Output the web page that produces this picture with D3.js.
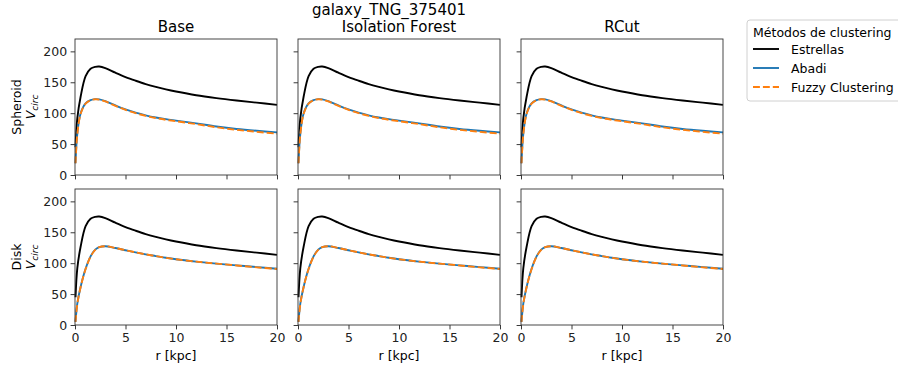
<!DOCTYPE html>
<html>
<head>
<meta charset="utf-8">
<script src="https://cdn.jsdelivr.net/npm/d3@7"></script>
<style>
body { margin: 0; background: #fff; }
svg { font-family: "DejaVu Sans", sans-serif; display: block; }
</style>
</head>
<body>
<svg id="chart"></svg>
<script>
// radius samples (kpc) shared by every curve
var radius = [0.05, 0.23, 0.56, 1.05, 1.54, 2.0, 2.4, 3.0, 4, 5, 6, 7, 8, 9, 10, 12, 14, 16, 18, 20];

var estrellas     = [45, 92, 127, 160, 172, 175, 175.5, 173, 165.5, 158.5, 152.5, 147, 142.5, 138.5, 135, 129, 124.4, 120.5, 117, 113.5];
var spheroidAbadi = [19, 67, 100, 116, 121, 122.7, 122.3, 119.5, 112.5, 106, 100.8, 96.5, 93, 90.3, 88, 83.5, 78.5, 74.5, 71.5, 69];
var spheroidFuzzy = [19, 66, 99, 115.5, 121, 122.5, 122, 119, 112, 105.3, 100, 95.7, 92.2, 89.3, 87, 82.3, 77.2, 73, 69.8, 66.8];
var diskAbadi     = [5, 35, 62, 91, 111, 122, 126, 127.5, 124.5, 121, 117.5, 114.3, 111.5, 108.7, 106.3, 102.5, 99.3, 96.5, 93.6, 91];
var diskFuzzy     = [5, 34, 61.5, 90.5, 110.5, 121.5, 126, 127.5, 124.5, 121, 117.5, 114.3, 111.5, 108.7, 106.3, 102.5, 99.3, 96.3, 93.3, 90.6];

var methods = ['Base', 'Isolation Forest', 'RCut'];
var components = ['Spheroid', 'Disk'];
var xTicks = [0, 5, 10, 15, 20];
var yTicks = [0, 50, 100, 150, 200];
var legendLabels = ['Estrellas', 'Abadi', 'Fuzzy Clustering'];

var width = 898;
var height = 369;
var panelW = 202;
var panelH = 136;
var lefts = [75, 298, 521];
var tops = [39, 189];

var xs = d3.scaleLinear().domain([0, 20]).range([0, panelW]);
var ys = d3.scaleLinear().domain([0, 220]).range([panelH, 0]);

var series = {
    Spheroid: [estrellas, spheroidAbadi, spheroidFuzzy],
    Disk: [estrellas, diskAbadi, diskFuzzy]
};
var colors = ['#000000', '#1f77b4', '#ff7f0e'];
var dashes = [null, null, '6.9,3'];

var svg = d3.select('#chart').attr('width', width).attr('height', height);

var line = d3.line()
    .x(function (d) { return xs(d[0]); })
    .y(function (d) { return ys(d[1]); })
    .curve(d3.curveCatmullRom.alpha(0.5));

components.forEach(function (comp, row) {
    methods.forEach(function (method, col) {
        var g = svg.append('g')
            .attr('transform', 'translate(' + lefts[col] + ',' + tops[row] + ')');

        // curves
        series[comp].forEach(function (vals, k) {
            var pts = radius.map(function (r, i) { return [r, vals[i]]; });
            g.append('path')
                .datum(pts)
                .attr('d', line)
                .attr('fill', 'none')
                .attr('stroke', colors[k])
                .attr('stroke-width', 1.9)
                .attr('stroke-dasharray', dashes[k]);
        });

        // axes
        var ya = g.append('g')
            .call(d3.axisLeft(ys).tickValues(yTicks).tickSize(4.4).tickPadding(3.5)
                .tickFormat(col == 0 ? d3.format('d') : function () { return ''; }));
        var xa = g.append('g')
            .attr('transform', 'translate(0,' + panelH + ')')
            .call(d3.axisBottom(xs).tickValues(xTicks).tickSize(4.4).tickPadding(3.5)
                .tickFormat(row == 1 ? d3.format('d') : function () { return ''; }));
        [ya, xa].forEach(function (a) {
            a.select('.domain').remove();
            a.selectAll('.tick line').attr('stroke', '#222').attr('stroke-width', 0.9);
            a.selectAll('text').attr('font-size', '12.5px').attr('fill', '#222')
                .attr('font-family', '"DejaVu Sans", sans-serif');
        });

        g.append('rect')
            .attr('width', panelW)
            .attr('height', panelH)
            .attr('fill', 'none')
            .attr('stroke', '#333')
            .attr('stroke-width', 0.9);

        if (row == 0) {
            g.append('text')
                .attr('x', panelW / 2)
                .attr('y', -7)
                .attr('text-anchor', 'middle')
                .attr('font-size', '15px')
                .text(method);
        } else {
            g.append('text')
                .attr('x', panelW / 2)
                .attr('y', 35)
                .attr('transform', 'translate(0,' + panelH + ')')
                .attr('text-anchor', 'middle')
                .attr('font-size', '12.5px')
                .text('r [kpc]');
        }
    });

    // y label, two lines
    var cy = tops[row] + panelH / 2;
    var lab = svg.append('g')
        .attr('transform', 'translate(0,' + cy + ') rotate(-90)')
        .attr('font-size', '12.5px')
        .attr('text-anchor', 'middle');
    lab.append('text').attr('x', 0).attr('y', 21).text(comp);
    var v = lab.append('text').attr('x', 0).attr('y', 35).attr('font-style', 'italic');
    v.append('tspan').text('V');
    v.append('tspan').attr('font-size', '9px').attr('dy', 2.5).text('circ');
});

// figure title
svg.append('text')
    .attr('x', 389)
    .attr('y', 15)
    .attr('text-anchor', 'middle')
    .attr('font-size', '15px')
    .text('galaxy_TNG_375401');

// legend
var leg = svg.append('g').attr('transform', 'translate(747,20)');
leg.append('rect')
    .attr('width', 160)
    .attr('height', 81)
    .attr('rx', 3)
    .attr('fill', '#fff')
    .attr('stroke', '#d0d0d0')
    .attr('stroke-width', 1);
leg.append('text')
    .attr('x', 6)
    .attr('y', 17)
    .attr('font-size', '12.5px')
    .text('Métodos de clustering');
legendLabels.forEach(function (name, i) {
    var yy = 29 + i * 19;
    leg.append('line')
        .attr('x1', 6).attr('x2', 32)
        .attr('y1', yy).attr('y2', yy)
        .attr('stroke', colors[i])
        .attr('stroke-width', 1.9)
        .attr('stroke-dasharray', dashes[i]);
    leg.append('text')
        .attr('x', 44)
        .attr('y', yy + 4.5)
        .attr('font-size', '12.5px')
        .text(name);
});
</script>
</body>
</html>
